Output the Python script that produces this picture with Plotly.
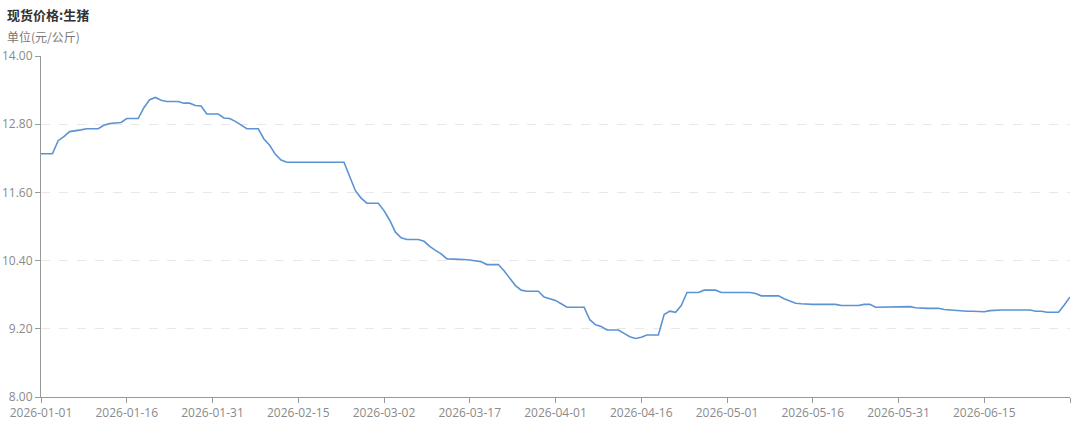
import plotly.graph_objects as go
import pandas as pd

title_text = "现货价格:生猪"
unit_text = "单位(元/公斤)"

dates = pd.date_range("2026-01-01", "2026-06-30", freq="D")

prices = [
    12.28, 12.28, 12.28, 12.51, 12.58, 12.67, 12.68, 12.70, 12.72, 12.72,
    12.72, 12.78, 12.81, 12.82, 12.83, 12.90, 12.90, 12.90, 13.09, 13.23,
    13.27, 13.22, 13.20, 13.20, 13.20, 13.17, 13.17, 13.13, 13.12, 12.98,
    12.98, 12.98, 12.91, 12.90, 12.85, 12.79, 12.72, 12.72, 12.72, 12.54,
    12.43, 12.27, 12.17, 12.13, 12.13, 12.13, 12.13, 12.13, 12.13, 12.13,
    12.13, 12.13, 12.13, 12.13, 11.88, 11.63, 11.50, 11.41, 11.41, 11.41,
    11.28, 11.11, 10.90, 10.80, 10.77, 10.77, 10.77, 10.74, 10.65, 10.58,
    10.52, 10.43, 10.43, 10.43, 10.42, 10.41, 10.40, 10.38, 10.33, 10.33,
    10.33, 10.22, 10.08, 9.96, 9.88, 9.86, 9.86, 9.86, 9.76, 9.73,
    9.70, 9.64, 9.58, 9.58, 9.58, 9.58, 9.36, 9.27, 9.24, 9.18,
    9.18, 9.18, 9.12, 9.06, 9.03, 9.05, 9.09, 9.09, 9.09, 9.45,
    9.51, 9.49, 9.61, 9.84, 9.84, 9.84, 9.88, 9.88, 9.88, 9.84,
    9.84, 9.84, 9.84, 9.84, 9.84, 9.82, 9.78, 9.78, 9.78, 9.78,
    9.73, 9.69, 9.65, 9.64, 9.63, 9.63, 9.63, 9.63, 9.64, 9.63,
    9.61, 9.61, 9.61, 9.61, 9.63, 9.63, 9.58, 9.58, 9.58, 9.58,
    9.58, 9.59, 9.59, 9.57, 9.56, 9.56, 9.56, 9.56, 9.54, 9.53,
    9.52, 9.51, 9.51, 9.51, 9.51, 9.50, 9.52, 9.53, 9.53, 9.53,
    9.53, 9.53, 9.53, 9.53, 9.51, 9.51, 9.49, 9.49, 9.49, 9.62,
    9.76,
]

x_tick_dates = ["2026-01-01", "2026-01-16", "2026-01-31", "2026-02-15", "2026-03-02",
                "2026-03-17", "2026-04-01", "2026-04-16", "2026-05-01", "2026-05-16",
                "2026-05-31", "2026-06-15", "2026-06-30"]
x_tick_labels = ["2026-01-01", "2026-01-16", "2026-01-31", "2026-02-15", "2026-03-02",
                 "2026-03-17", "2026-04-01", "2026-04-16", "2026-05-01", "2026-05-16",
                 "2026-05-31", "2026-06-15", ""]
y_tick_vals = [8.00, 9.20, 10.40, 11.60, 12.80, 14.00]
y_tick_labels = ["8.00", "9.20", "10.40", "11.60", "12.80", "14.00"]

fig = go.Figure()
fig.add_trace(go.Scatter(
    x=dates, y=prices[:len(dates)], mode="lines",
    line=dict(color="#5B93D3", width=1.6),
    hoverinfo="x+y", showlegend=False,
))

tick_font = dict(family="Open Sans, Noto Sans CJK SC, sans-serif", size=12, color="#8a8a8a")

fig.update_layout(
    width=1080, height=433,
    margin=dict(l=41, r=10, t=56, b=36),
    paper_bgcolor="white", plot_bgcolor="white",
    xaxis=dict(
        range=[dates[0], dates[-1]],
        tickmode="array", tickvals=x_tick_dates, ticktext=x_tick_labels,
        showgrid=False, zeroline=False, automargin=False,
        showline=True, linecolor="#999999", linewidth=1,
        ticks="outside", ticklen=5, tickcolor="#999999",
        tickfont=tick_font,
    ),
    yaxis=dict(
        range=[8, 14],
        tickmode="array", tickvals=y_tick_vals, ticktext=y_tick_labels,
        showgrid=True, gridcolor="#e8e8e8", griddash="dash", gridwidth=1,
        zeroline=False, automargin=False,
        showline=True, linecolor="#999999", linewidth=1,
        ticks="outside", ticklen=5, tickcolor="#999999",
        tickfont=tick_font,
    ),
    annotations=[
        dict(text="<b>" + title_text + "</b>", xref="paper", yref="paper",
             x=-36 / 1029, y=(397 - 14) / 341, xanchor="left", yanchor="middle",
             showarrow=False,
             font=dict(family="Noto Sans CJK SC, sans-serif", size=13, color="#333333")),
        dict(text=unit_text, xref="paper", yref="paper",
             x=-36 / 1029, y=(397 - 36) / 341, xanchor="left", yanchor="middle",
             showarrow=False,
             font=dict(family="Noto Sans CJK SC, sans-serif", size=12, color="#777777")),
    ],
)

fig.write_html("out.html")
